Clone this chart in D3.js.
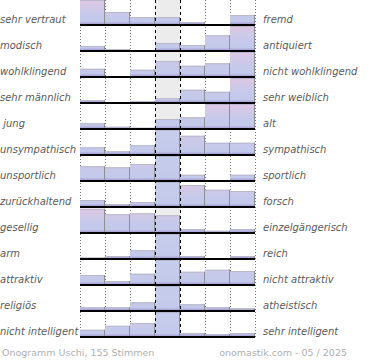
<!DOCTYPE html>
<html><head><meta charset="utf-8">
<script src="https://cdn.jsdelivr.net/npm/d3@7"></script>
<style>body{margin:0;background:#fff}svg{display:block}</style>
</head><body>
<script>
const leftLabels = ["sehr vertraut","modisch","wohlklingend","sehr männlich"," jung","unsympathisch","unsportlich","zurückhaltend","gesellig","arm","attraktiv","religiös","nicht intelligent"];
const rightLabels = ["fremd","antiquiert","nicht wohlklingend","sehr weiblich","alt","sympathisch","sportlich","forsch","einzelgängerisch","reich","nicht attraktiv","atheistisch","sehr intelligent"];
const columns = [1,2,3,4,5,6,7];
const values = [
  [100,52,32,32,12,0,40],
  [20,7,0,32,24,63,100],
  [33,0,29,64,45,55,100],
  [11,0,7,19,53,45,100],
  [23,9,5,40,47,100,100],
  [31,15,39,130,77,49,49],
  [59,55,68,130,25,4,25],
  [28,12,20,130,88,69,64],
  [97,75,79,71,16,9,16],
  [6,12,35,130,12,0,12],
  [40,16,45,130,53,61,56],
  [15,15,35,130,27,15,11],
  [29,45,56,130,16,12,16]
];
const footerLeft = "Onogramm Uschi, 155 Stimmen";
const footerRight = "onomastik.com - 05 / 2025";

const W = 370, H = 360;
const svg = d3.select("body").append("svg").attr("width", W).attr("height", H);
const defs = svg.append("defs");

const x = d3.scaleBand().domain(columns).range([80, 255]).padding(0);
const rowBase = d3.scaleLinear().domain([0, leftLabels.length - 1]).range([25, 337]);
const hScale = d3.scaleLinear().domain([0, 100]).range([0, 25]).clamp(true);
const ROWH = 25;

leftLabels.forEach((l, i) => {
  const b = rowBase(i);
  const g = defs.append("linearGradient").attr("id", "g" + i)
    .attr("gradientUnits", "userSpaceOnUse").attr("x1", 0).attr("x2", 0)
    .attr("y1", b - ROWH).attr("y2", b);
  g.append("stop").attr("offset", "0%").attr("stop-color", "#e0c6e4");
  g.append("stop").attr("offset", "50%").attr("stop-color", "#c8c9e9");
  g.append("stop").attr("offset", "86%").attr("stop-color", "#c3c9ea");
  g.append("stop").attr("offset", "100%").attr("stop-color", "#9c90cb");
  const gb = defs.append("linearGradient").attr("id", "b" + i)
    .attr("gradientUnits", "userSpaceOnUse").attr("x1", 0).attr("x2", 0)
    .attr("y1", b - ROWH).attr("y2", b);
  gb.append("stop").attr("offset", "0%").attr("stop-color", "#c6cdec");
  gb.append("stop").attr("offset", "86%").attr("stop-color", "#c3c9ea");
  gb.append("stop").attr("offset", "100%").attr("stop-color", "#9c90cb");
});

svg.append("g").selectAll("rect").data(leftLabels).join("rect")
  .attr("x", x(4)).attr("width", x.bandwidth())
  .attr("y", (d, i) => rowBase(i) - ROWH - 1).attr("height", ROWH + 1)
  .attr("fill", "#ececec");

const dotted = [80, x(2), x(3), x(6), x(7), 255];
svg.append("g").selectAll("line").data(dotted).join("line")
  .attr("x1", d => d + 0.5).attr("x2", d => d + 0.5)
  .attr("y1", 0).attr("y2", 338)
  .attr("stroke", "#777").attr("stroke-dasharray", "1,2");

const rows = svg.append("g").selectAll("g").data(values).join("g");
rows.each(function(vals, i) {
  const g = d3.select(this);
  const b = rowBase(i);
  vals.forEach((v, j) => {
    if (v <= 0) return;
    const h = hScale(v);
    const x0 = x(columns[j]);
    g.append("rect").attr("x", x0).attr("y", b - h)
      .attr("width", x.bandwidth()).attr("height", h)
      .attr("fill", v > 100 ? `url(#b${i})` : `url(#g${i})`);
    g.append("line").attr("x1", x0).attr("x2", x0 + x.bandwidth())
      .attr("y1", b - h + 0.5).attr("y2", b - h + 0.5)
      .attr("stroke", "#b8b8c8").attr("stroke-width", 1);
    g.append("line").attr("x1", x0 + x.bandwidth() - 0.5).attr("x2", x0 + x.bandwidth() - 0.5)
      .attr("y1", b - h).attr("y2", b)
      .attr("stroke", "#8e8e96").attr("stroke-width", 1);
  });
  g.append("line").attr("x1", 80).attr("x2", 255)
    .attr("y1", b).attr("y2", b)
    .attr("stroke", "#000").attr("stroke-width", 2);
});

svg.append("g").selectAll("line").data([x(4), x(5)]).join("line")
  .attr("x1", d => d + 0.5).attr("x2", d => d + 0.5)
  .attr("y1", 0).attr("y2", 338)
  .attr("stroke", "#000").attr("stroke-width", 1).attr("stroke-dasharray", "3,3");

const lab = svg.append("g").attr("font-family", "DejaVu Sans").attr("font-size", 10)
  .attr("font-style", "italic").attr("fill", "#5a5a5a");
lab.selectAll("text.l").data(leftLabels).join("text").attr("class", "l")
  .attr("x", 0).attr("y", (d, i) => rowBase(i) - 2)
  .style("white-space", "pre").text(d => d);
lab.selectAll("text.r").data(rightLabels).join("text").attr("class", "r")
  .attr("x", 263).attr("y", (d, i) => rowBase(i) - 2).text(d => d);

const ft = svg.append("g").attr("font-family", "DejaVu Sans").attr("font-size", 9.5).attr("fill", "#b0b0b0");
ft.append("text").attr("x", 2).attr("y", 356).text(footerLeft);
ft.append("text").attr("x", 347).attr("y", 356).attr("text-anchor", "end").text(footerRight);
</script>
</body></html>
